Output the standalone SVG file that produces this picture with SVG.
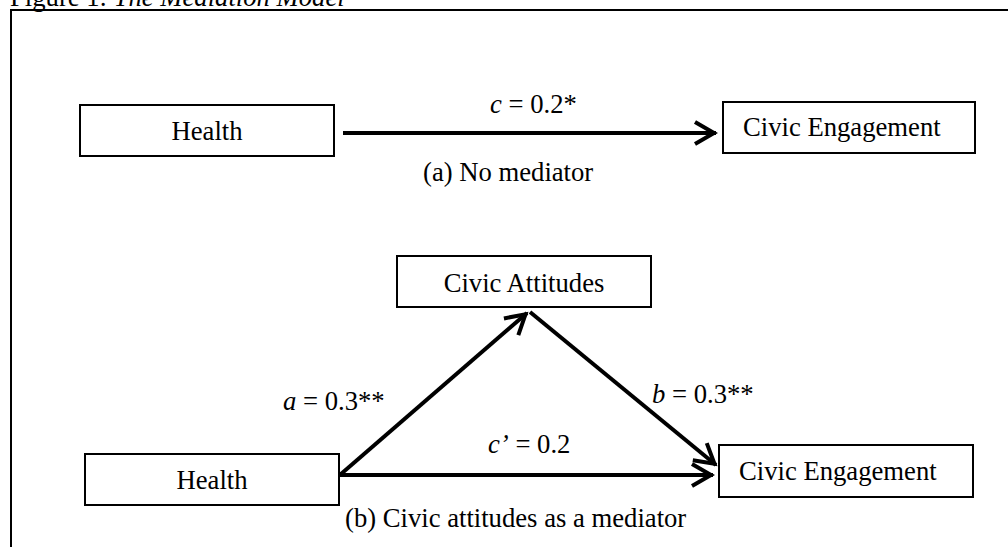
<svg xmlns="http://www.w3.org/2000/svg" width="1008" height="547" viewBox="0 0 1008 547">
<style>
text{font-family:"Liberation Serif","Times New Roman",serif;font-size:26.67px;fill:#000}
.box{fill:#fff;stroke:#000;stroke-width:2}
.conn{stroke:#000;stroke-width:4;fill:none}
.it{font-style:italic}
</style>
<defs>
<marker id="arr" viewBox="-24 -14 30 28" refX="2" refY="0" markerWidth="30" markerHeight="28" orient="auto" markerUnits="userSpaceOnUse">
<path d="M-19,-11 L0,0 L-19,11" fill="none" stroke="#000" stroke-width="4"/>
</marker>
</defs>
<rect width="1008" height="547" fill="#fff"/>
<text x="10" y="6">Figure 1: <tspan class="it">The Mediation Model</tspan></text>
<rect x="11" y="10" width="1100" height="600" fill="none" stroke="#000" stroke-width="2"/>
<g id="connectors">
<line class="conn" x1="343" y1="133" x2="716" y2="133" marker-end="url(#arr)"/>
<line class="conn" x1="341" y1="474" x2="527" y2="313" marker-end="url(#arr)"/>
<line class="conn" x1="530" y1="312" x2="716" y2="465" marker-end="url(#arr)"/>
<line class="conn" x1="339" y1="475" x2="713" y2="475" marker-end="url(#arr)"/>
</g>
<g id="health-a">
<rect class="box" x="80" y="105" width="254" height="51"/>
<text x="207" y="140" text-anchor="middle">Health</text>
</g>
<g id="engagement-a">
<rect class="box" x="723" y="102" width="252" height="51"/>
<text x="743" y="136">Civic Engagement</text>
</g>
<g id="attitudes-b">
<rect class="box" x="397" y="256" width="254" height="51"/>
<text x="524" y="292" text-anchor="middle">Civic Attitudes</text>
</g>
<g id="health-b">
<rect class="box" x="85" y="454" width="254" height="51"/>
<text x="212" y="489" text-anchor="middle">Health</text>
</g>
<g id="engagement-b">
<rect class="box" x="719" y="445" width="254" height="52"/>
<text x="739" y="480">Civic Engagement</text>
</g>
<g id="labels">
<text x="490" y="113"><tspan class="it">c</tspan> = 0.2*</text>
<text x="423" y="181">(a) No mediator</text>
<text x="283" y="410"><tspan class="it">a</tspan> = 0.3**</text>
<text x="652" y="403"><tspan class="it">b</tspan> = 0.3**</text>
<text x="488" y="453"><tspan class="it">c’</tspan> = 0.2</text>
<text x="345" y="527">(b) Civic attitudes as a mediator</text>
</g>
</svg>
